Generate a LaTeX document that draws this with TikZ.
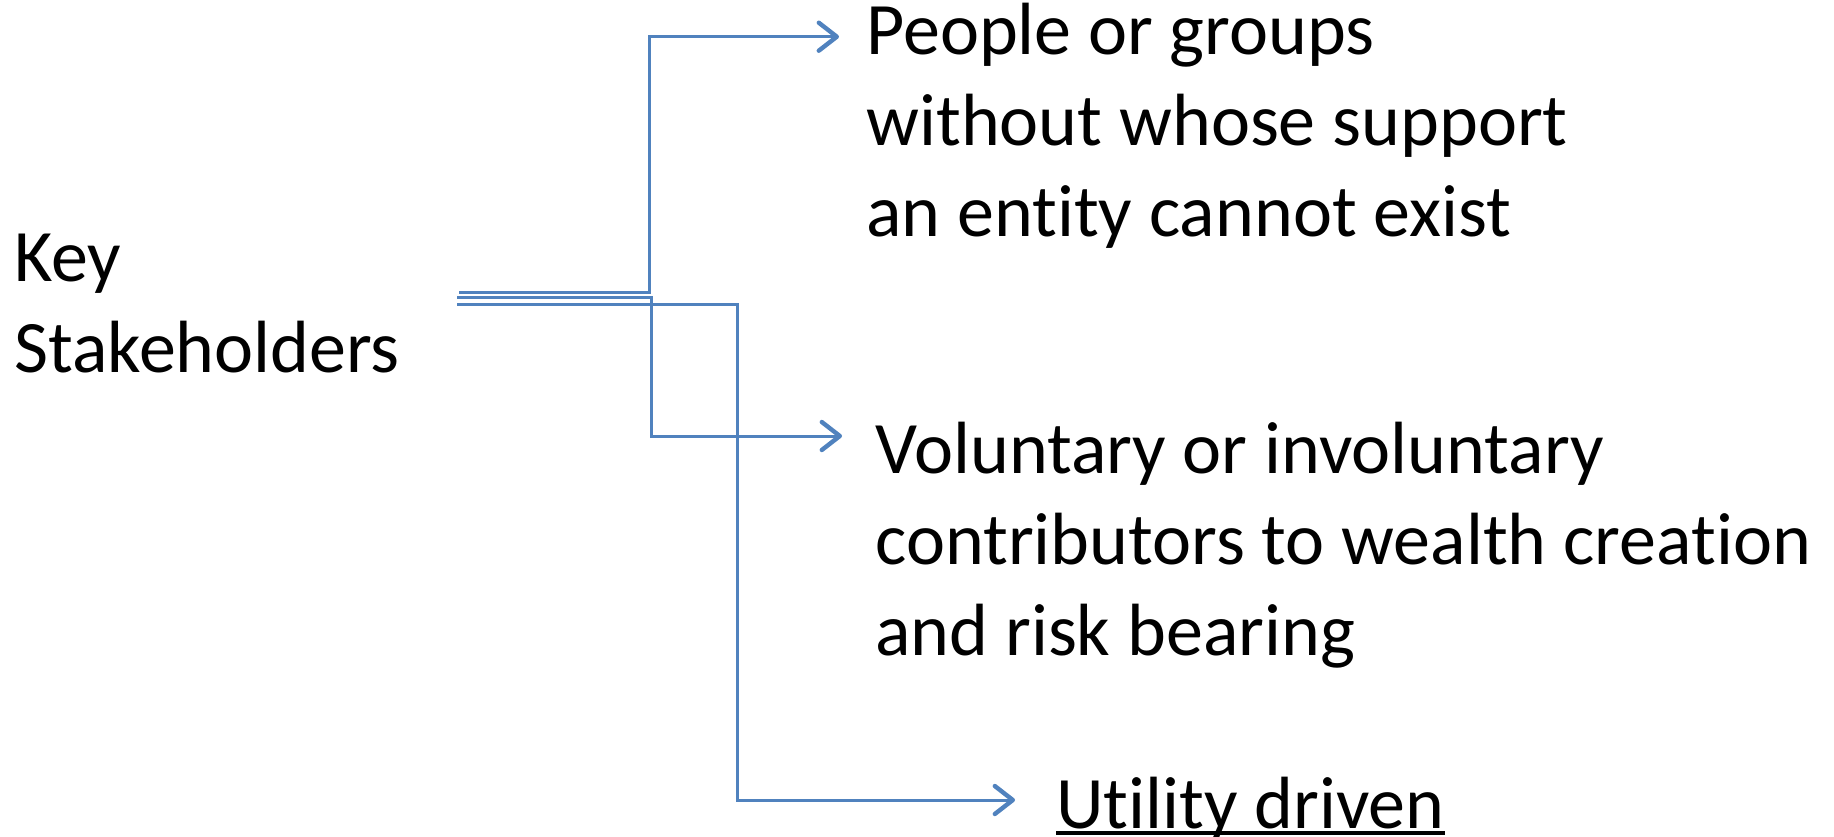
\documentclass[tikz,border=0pt]{standalone}
\usepackage{fontspec}
\setmainfont{Carlito}[Ligatures=NoCommon]
\usetikzlibrary{arrows.meta}
\definecolor{conn}{RGB}{80,130,190}
\begin{document}
\begin{tikzpicture}[x=0.5pt,y=-0.5pt,
  txt/.style={inner sep=0pt,anchor=base west,align=left,font=\fontsize{37}{45.5}\selectfont},
  link/.style={draw=conn,line width=1.5pt},
  arrowlink/.style={link,-{Straight Barb[length=9pt,width=14pt,line width=2.2pt,round]}}]
\useasboundingbox (0,0) rectangle (1834,836);
\node[txt] (key) at (14,372) {Key\\Stakeholders};
\node[txt] (p1) at (866,236) {People or groups\\without whose support\\an entity cannot exist};
\node[txt] (p2) at (875,655) {Voluntary or involuntary\\contributors to wealth creation\\and risk bearing};
\node[txt] (p3) at (1056,828) {Utility driven};
\draw[line width=1.6pt] ([yshift=-2.5pt]p3.base west) -- ([yshift=-2.5pt]p3.base east);
\coordinate (s1) at (459,292.7);
\coordinate (s2) at (457,297);
\coordinate (s3) at (457,304.3);
\coordinate (b1) at (649,292.7);
\coordinate (b2) at (651,297);
\coordinate (b3) at (737,304.3);
\coordinate (t1) at (839,36.7);
\coordinate (t2) at (842,436);
\coordinate (t3) at (1015,800);
\draw[arrowlink] (s1) -- (b1) |- (t1);
\draw[arrowlink] (s2) -- (b2) |- (t2);
\draw[arrowlink] (s3) -- (b3) |- (t3);
\end{tikzpicture}
\end{document}
